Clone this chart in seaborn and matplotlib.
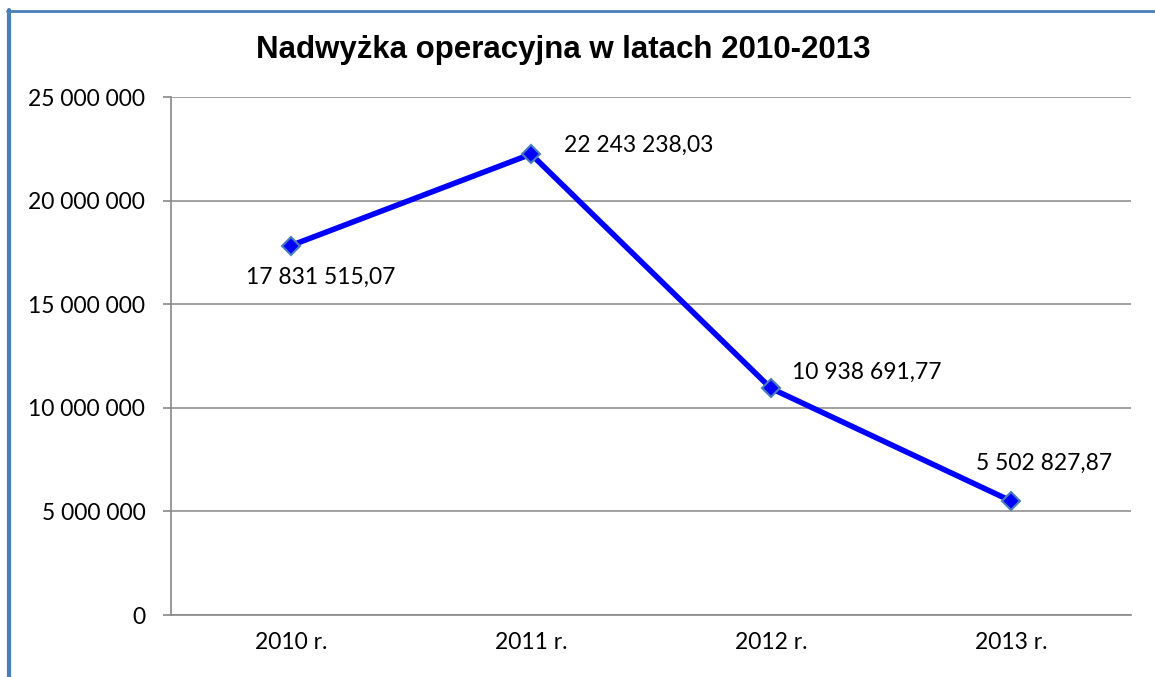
import seaborn as sns
import matplotlib.pyplot as plt
import pandas as pd
from matplotlib.lines import Line2D

years = ["2010 r.", "2011 r.", "2012 r.", "2013 r."]
surplus = [17831515.07, 22243238.03, 10938691.77, 5502827.87]
y_ticks = [0, 5000000, 10000000, 15000000, 20000000, 25000000]

# label offsets in pixels (dx, dy) from each point
label_offsets = [(30, -32), (108, 9), (96, 16), (33, 38)]


def fmt_int(v):
    return f"{v:,.0f}".replace(",", " ")


def fmt_pl(v):
    return f"{v:,.2f}".replace(",", " ").replace(".", ",")


df = pd.DataFrame({"year": years, "value": surplus})

sns.set_style("white")
plt.rcParams["font.family"] = ["Lato", "DejaVu Sans"]
plt.rcParams["text.color"] = "black"
plt.rcParams["xtick.color"] = "black"
plt.rcParams["ytick.color"] = "black"

fig = plt.figure(figsize=(11.55, 6.77), dpi=100)
ax = fig.add_axes([171 / 1155, 1 - 615 / 677, 960 / 1155, 518 / 677])

sns.lineplot(data=df, x="year", y="value", ax=ax, sort=False,
             color="#0000ff", linewidth=4, marker="D", markersize=9,
             markerfacecolor="#0000ff", markeredgecolor="#4a7ebb",
             markeredgewidth=1.5)

ax.set_xlim(-0.5, 3.5)
ax.set_ylim(0, 25000000)
ax.set_yticks(y_ticks)
ax.set_yticklabels([fmt_int(v) for v in y_ticks], fontsize=16.5)
ax.set_xticks(range(len(years)))
ax.set_xticklabels(years, fontsize=16.5)
ax.set_xticks([i - 0.5 for i in range(len(years) + 1)], minor=True)
ax.tick_params(axis="x", which="major", length=0, pad=12, labelcolor="black")
ax.tick_params(axis="x", which="minor", length=6, width=1.2, color="#888888",
               direction="out")
ax.tick_params(axis="y", length=6, width=1.2, color="#888888", pad=12.5,
               direction="out", left=True, labelcolor="black")
ax.set_xlabel("")
ax.set_ylabel("")

ax.grid(axis="y", color="#888888", linewidth=1.1)
ax.grid(axis="x", visible=False)
for side in ["top", "right"]:
    ax.spines[side].set_visible(False)
for side in ["left", "bottom"]:
    ax.spines[side].set_color("#888888")
    ax.spines[side].set_linewidth(1.2)

for i, (v, (dx, dy)) in enumerate(zip(surplus, label_offsets)):
    ax.annotate(fmt_pl(v), xy=(i, v), xytext=(dx, dy),
                textcoords="offset pixels", ha="center", va="center",
                fontsize=16.5, color="black")

fig.text(0.5 * (255 + 872) / 1155, 1 - 50 / 677,
         "Nadwyżka operacyjna w latach 2010-2013",
         ha="center", va="center", fontsize=22.5, fontweight="bold",
         color="black", family=["Liberation Sans", "DejaVu Sans"])

# frame in blue on left and top
fig.add_artist(Line2D([8.5 / 1155, 8.5 / 1155], [0, 1 - 10 / 677],
                      transform=fig.transFigure, color="#4a7ebb", linewidth=3))
fig.add_artist(Line2D([7 / 1155, 1], [1 - 11 / 677, 1 - 11 / 677],
                      transform=fig.transFigure, color="#4a7ebb", linewidth=2))

fig.savefig("out.png", dpi=100)
